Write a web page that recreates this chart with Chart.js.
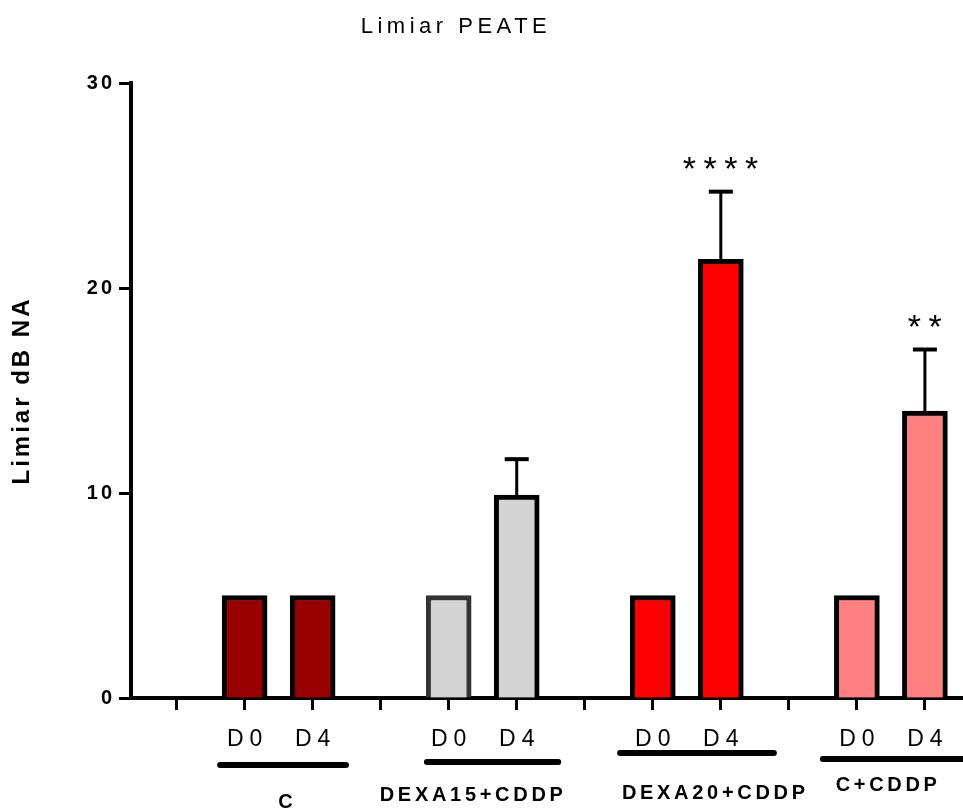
<!DOCTYPE html>
<html>
<head>
<meta charset="utf-8">
<script src="https://cdn.jsdelivr.net/npm/chart.js@4.4.0/dist/chart.umd.min.js"></script>
<style>
  html, body { margin: 0; padding: 0; background: #fff; }
  #wrap { width: 963px; height: 810px; }
</style>
</head>
<body>
<div id="wrap"><canvas id="peateChart"></canvas></div>
<script>
const chartTitle = 'Limiar PEATE';
const yAxisTitle = 'Limiar dB NA';
const groupNames = ['C', 'DEXA15+CDDP', 'DEXA20+CDDP', 'C+CDDP'];
const dayLabels = ['D0', 'D4'];
const yTicks = [0, 10, 20, 30];
const d0Means = [5, 5, 5, 5];
const d4Means = [5, 9.9, 21.4, 14];
const d4Sem = [0, 1.75, 3.3, 3.0];
const d4Signif = ['', '', '****', '**'];
const groupFill = ['#990000', '#d3d3d3', '#ff0000', '#ff8080'];
const d0Border = ['#000000', '#333333', '#000000', '#000000'];
const d4Border = ['#000000', '#000000', '#000000', '#000000'];

const FONT = "'Liberation Sans', Arial, sans-serif";

// each group takes 3 slots on the x axis: an empty one, then D0, D4
const slotOf = (g, d) => 3 * g + 1 + d;
const allSlots = Array.from({ length: groupNames.length * 3 }, (_, i) => i);

// decoration under the axis (offsets in slot units from the group's first slot, pixels below the axis)
const groupDeco = [
    { lineFrom: 0.64, lineTo: 2.49, lineY: 67, labelX: 1.6, labelY: 104 },
    { lineFrom: 0.68, lineTo: 2.61, lineY: 64, labelX: 1.33, labelY: 97 },
    { lineFrom: 0.52, lineTo: 2.78, lineY: 55, labelX: 1.89, labelY: 95 },
    { lineFrom: 0.5, lineTo: 3.2, lineY: 61, labelX: 1.43, labelY: 87 },
];

const spacingPlugin = {
    id: 'spacing',
    beforeDraw(chart) {
        chart.ctx.letterSpacing = '3px';
    }
};

const errorBarPlugin = {
    id: 'errorBars',
    afterDatasetsDraw(chart) {
        const { ctx } = chart;
        const y = chart.scales.y;
        const meta = chart.getDatasetMeta(1);
        ctx.save();
        ctx.strokeStyle = '#000';
        meta.data.forEach((bar, i) => {
            if (!d4Sem[i]) return;
            const yTop = y.getPixelForValue(d4Means[i] + d4Sem[i]);
            ctx.lineWidth = 3;
            ctx.beginPath();
            ctx.moveTo(bar.x, bar.y);
            ctx.lineTo(bar.x, yTop);
            ctx.stroke();
            ctx.lineWidth = 4;
            ctx.beginPath();
            ctx.moveTo(bar.x - 12, yTop);
            ctx.lineTo(bar.x + 12, yTop);
            ctx.stroke();
            if (d4Signif[i]) {
                ctx.letterSpacing = '7.5px';
                ctx.font = '34px ' + FONT;
                ctx.fillStyle = '#000';
                ctx.textAlign = 'center';
                ctx.textBaseline = 'alphabetic';
                ctx.fillText(d4Signif[i], bar.x + 3.5, yTop - 12);
            }
        });
        ctx.restore();
    }
};

const labelsPlugin = {
    id: 'groupLabels',
    afterDraw(chart) {
        const { ctx, chartArea } = chart;
        const x = chart.scales.x;
        const base = chartArea.bottom;
        ctx.save();
        ctx.fillStyle = '#000';
        ctx.strokeStyle = '#000';
        ctx.textAlign = 'center';
        ctx.textBaseline = 'middle';

        // title
        ctx.letterSpacing = '4.5px';
        ctx.font = '22px ' + FONT;
        ctx.fillText(chartTitle, 456, 27);

        // day labels under each bar
        ctx.letterSpacing = '6px';
        ctx.font = '23px ' + FONT;
        groupNames.forEach((_, g) => {
            dayLabels.forEach((day, d) => {
                ctx.fillText(day, x.getPixelForValue(slotOf(g, d)) + 3, base + 42);
            });
        });

        // group lines and names
        ctx.lineWidth = 6;
        ctx.lineCap = 'round';
        ctx.letterSpacing = '3.7px';
        ctx.font = 'bold 20px ' + FONT;
        groupNames.forEach((name, g) => {
            const deco = groupDeco[g];
            const start = 3 * g;
            ctx.beginPath();
            ctx.moveTo(x.getPixelForValue(start + deco.lineFrom), base + deco.lineY);
            ctx.lineTo(x.getPixelForValue(start + deco.lineTo), base + deco.lineY);
            ctx.stroke();
            ctx.fillText(name, x.getPixelForValue(start + deco.labelX) + 2, base + deco.labelY);
        });
        ctx.restore();
    }
};

const makeBars = (means, d) => means.map((v, g) => ({ x: slotOf(g, d), y: v }));

new Chart(document.getElementById('peateChart'), {
    type: 'bar',
    data: {
        datasets: [
            {
                label: dayLabels[0],
                data: makeBars(d0Means, 0),
                backgroundColor: groupFill,
                borderColor: d0Border,
            },
            {
                label: dayLabels[1],
                data: makeBars(d4Means, 1),
                backgroundColor: groupFill,
                borderColor: d4Border,
            }
        ]
    },
    options: {
        responsive: true,
        maintainAspectRatio: false,
        animation: false,
        grouped: false,
        barThickness: 45,
        borderWidth: 5,
        borderSkipped: 'bottom',
        layout: { padding: { top: 83, left: 0, right: 0, bottom: 0 } },
        plugins: {
            legend: { display: false },
            tooltip: { enabled: false },
            title: { display: false }
        },
        scales: {
            x: {
                type: 'linear',
                offset: false,
                min: -0.67,
                max: 11.56,
                afterBuildTicks: (scale) => { scale.ticks = allSlots.map(v => ({ value: v })); },
                afterFit: (scale) => { scale.height = 112; },
                ticks: { display: false, autoSkip: false },
                grid: {
                    offset: false,
                    drawOnChartArea: false,
                    drawTicks: true,
                    tickLength: 12,
                    tickWidth: 3,
                    tickColor: '#000'
                },
                border: { display: true, color: '#000', width: 4 }
            },
            y: {
                min: 0,
                max: 30,
                afterBuildTicks: (scale) => { scale.ticks = yTicks.map(v => ({ value: v })); },
                afterFit: (scale) => { scale.width = 131; },
                ticks: {
                    color: '#000',
                    padding: 4,
                    font: { family: FONT, size: 20, weight: 'bold' }
                },
                grid: {
                    drawOnChartArea: false,
                    drawTicks: true,
                    tickLength: 12,
                    tickWidth: 3,
                    tickColor: '#000'
                },
                border: { display: true, color: '#000', width: 4 },
                title: {
                    display: true,
                    text: yAxisTitle,
                    color: '#000',
                    padding: { top: 8, bottom: 0 },
                    font: { family: FONT, size: 24, weight: 'bold' }
                }
            }
        }
    },
    plugins: [spacingPlugin, errorBarPlugin, labelsPlugin]
});
</script>
</body>
</html>
